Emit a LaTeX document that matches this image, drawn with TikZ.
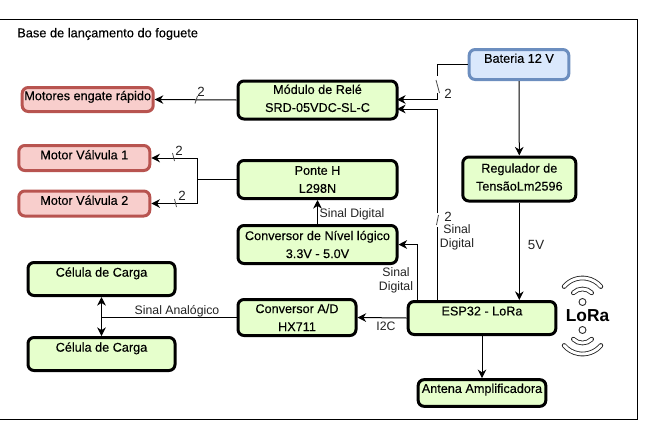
\documentclass[tikz,border=0pt]{standalone}
\usepackage{fontspec}
\setmainfont{Liberation Sans}
\newfontfamily\boxfont{Liberation Sans}[FakeBold=0.25]
\usetikzlibrary{arrows.meta}
\definecolor{GreenFill}{HTML}{E6FFCC}
\definecolor{RedFill}{HTML}{F8CECC}
\definecolor{RedLine}{HTML}{B85450}
\definecolor{BlueFill}{HTML}{DAE8FC}
\definecolor{BlueLine}{HTML}{6C8EBF}
\definecolor{TextGrey}{HTML}{222222}
\tikzstyle{GreenNode}=[rectangle, rounded corners=4.5pt, draw=black, fill=GreenFill, line width=2.25pt, inner sep=0pt, align=center, font=\boxfont\fontsize{9.5}{13.5}\selectfont]
\tikzstyle{RedNode}=[GreenNode, draw=RedLine, fill=RedFill]
\tikzstyle{BlueNode}=[GreenNode, draw=BlueLine, fill=BlueFill]
\tikzstyle{Label}=[inner sep=0pt, align=center, text=TextGrey, font=\fontsize{9.2}{10.5}\selectfont]
\tikzstyle{BigLabel}=[Label, font=\fontsize{10}{11}\selectfont]
\tikzstyle{Edge}=[line width=0.75pt, -{Stealth[length=6.5pt,width=6.5pt]}]
\tikzstyle{Wire}=[line width=0.75pt]
\tikzstyle{BothEdge}=[Edge, {Stealth[length=6.5pt,width=6.5pt]}-{Stealth[length=6.5pt,width=6.5pt]}]
\tikzstyle{Slash}=[line width=0.6pt, black!70]
\tikzstyle{LoraArc}=[draw=black!85, line width=0.65pt, double=white, double distance=2.2pt, line cap=round]
\begin{document}
\begin{tikzpicture}[x=0.75pt,y=-0.75pt]
\useasboundingbox (0,0) rectangle (651,433);
\draw[line width=0.75pt] (0,19) -- (637,19) -- (637,419) -- (0,419);
\node[Label, anchor=west, text=black, font=\boxfont\fontsize{9.6}{11}\selectfont](Title) at (17,34) {Base de lançamento do foguete};

\node[RedNode, minimum width=98.25pt, minimum height=18pt, text depth=6pt](Motores) at (87.7,99.5) {Motores engate rápido};
\node[RedNode, minimum width=98.25pt, minimum height=18.75pt, text depth=5pt](ValvA) at (84.3,158) {Motor Válvula 1};
\node[RedNode, minimum width=98.25pt, minimum height=18.75pt, text depth=5pt](ValvB) at (84.3,203.5) {Motor Válvula 2};
\node[GreenNode, minimum width=119.25pt, minimum height=28.5pt, text depth=2.6pt](Rele) at (317.5,100) {Módulo de Relé\\SRD-05VDC-SL-C};
\node[GreenNode, minimum width=119.25pt, minimum height=28.5pt](Ponte) at (317.5,179.5) {Ponte H\\L298N};
\node[GreenNode, minimum width=119.25pt, minimum height=28.5pt](Nivel) at (317.5,244.5) {Conversor de Nível lógico\\3.3V - 5.0V};
\node[GreenNode, minimum width=88.5pt, minimum height=27pt](Conv) at (297,317.5) {Conversor A/D\\HX711};
\node[GreenNode, minimum width=110.25pt, minimum height=24.75pt, text depth=10.5pt](CelA) at (101.5,279) {Célula de Carga};
\node[GreenNode, minimum width=110.25pt, minimum height=24.75pt, text depth=10.5pt](CelB) at (101.5,354) {Célula de Carga};
\node[BlueNode, minimum width=74.75pt, minimum height=22.5pt, text depth=9.5pt](Bateria) at (519,64.5) {Bateria 12 V};
\node[GreenNode, minimum width=84.75pt, minimum height=33pt, text depth=3pt](Reg) at (519.3,179) {Regulador de\\TensãoLm2596};
\node[GreenNode, minimum width=110.75pt, minimum height=24.75pt, text depth=10.5pt](ESP) at (482,318) {ESP32 - LoRa};
\node[GreenNode, minimum width=95.75pt, minimum height=20pt, text depth=7pt](Antena) at (482,393) {Antena Amplificadora};

\coordinate (JuncV) at (197,179.5);
\coordinate (EspA) at (417,300);
\coordinate (EspB) at (437.5,300);
\coordinate (ReleA) at (397,99.5);
\coordinate (ReleB) at (397,109);
\coordinate (BatA) at (437.5,76);
\coordinate (BatB) at (437.5,93);
\coordinate (BusA) at (437.5,213);
\coordinate (BusB) at (437.5,227);

\draw[Edge](Rele.west) -- (Motores.east);
\draw[Wire](Ponte.west) -- (JuncV);
\draw[Edge](JuncV) |- (ValvA.east);
\draw[Edge](JuncV) |- (ValvB.east);
\draw[Edge](Nivel.north) -- (Ponte.south);
\draw[Edge](EspA) |- (Nivel.east);
\draw[Wire](Bateria.west) -| (BatA);
\draw[Edge](BatB) |- (ReleA);
\draw[Wire](EspB) -- (BusB);
\draw[Edge](BusA) |- (ReleB);
\draw[Edge](Bateria.south) -- (Reg.north);
\draw[Edge](Reg.south) -- (Reg.south |- ESP.north);
\draw[Edge](ESP.west) -- (Conv.east);
\draw[Edge](ESP.south) -- (Antena.north);
\draw[BothEdge](CelA.south) -- (CelB.north);
\draw[Wire](Conv.west) -- (CelA.south |- Conv.west);

% marcas de barramento
\draw[Slash] (197.5,96) -- (195,103.5);
\draw[Slash] (172.5,153) -- (174.5,161);
\draw[Slash] (174.5,199) -- (176.5,207);
\draw[Slash] (436,80) -- (439.5,93);
\draw[Slash] (438.5,215) -- (436.5,225);

\node[BigLabel](NumA) at (201,92) {2};
\node[BigLabel](NumB) at (179,151) {2};
\node[BigLabel](NumC) at (182,196) {2};
\node[BigLabel](NumD) at (448,94) {2};
\node[BigLabel](NumE) at (448,217) {2};
\node[Label](SinalA) at (352,214) {Sinal Digital};
\node[Label](SinalB) at (396,280) {Sinal\\Digital};
\node[Label](SinalC) at (457,237.5) {Sinal\\Digital};
\node[BigLabel](TensaoV) at (536,245) {5V};
\node[Label](BusI) at (386,326) {I2C};
\node[Label](SinalD) at (177,311) {Sinal Analógico};

% simbolo LoRa
\node[Label, text=black, font=\fontsize{13}{14}\bfseries\selectfont](Lora) at (587.5,316) {LoRa};
\foreach \cy/\sa/\sb in {302/220/320,330/40/140} {
  \draw[black!85, line width=0.65pt] (582.5,\cy) circle (3.5);
  \draw[LoraArc] (582.5,\cy) ++(\sa:24) arc[start angle=\sa, end angle=\sb, radius=24];
  \draw[LoraArc] (582.5,\cy) ++(\sa+5:13) arc[start angle=\sa+5, end angle=\sb-5, radius=13];
}
\end{tikzpicture}
\end{document}
